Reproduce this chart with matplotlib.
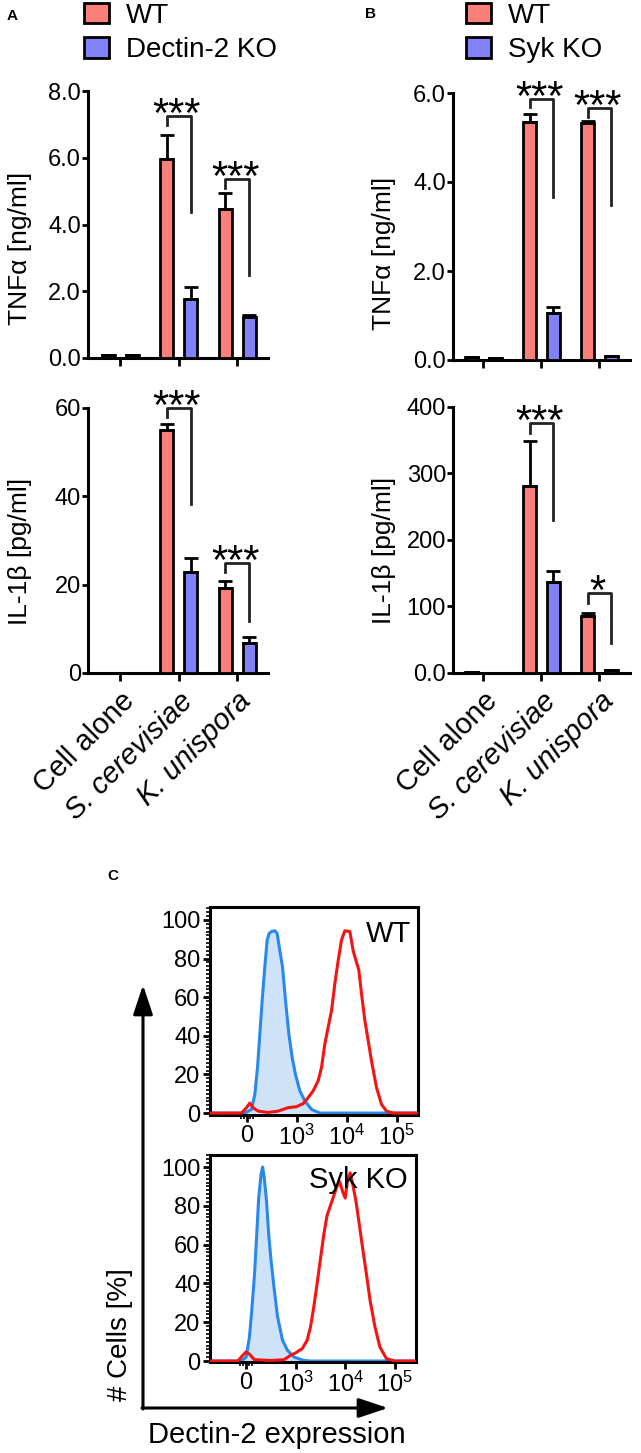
import numpy as np
import matplotlib
matplotlib.use("Agg")
import matplotlib.pyplot as plt
from matplotlib.ticker import FixedLocator, MultipleLocator

plt.rcParams['font.family'] = ['Liberation Sans', 'DejaVu Sans']
plt.rcParams['mathtext.fontset'] = 'custom'
plt.rcParams['mathtext.rm'] = 'Liberation Sans'
plt.rcParams['mathtext.it'] = 'Liberation Sans:italic'

W, H = 641, 1453
RED, BLUE = '#f9807a', '#8282f8'
HRED, HBLUE, HFILL = '#f41414', '#2a88ec', '#cfe3f8'

# ---- bar data (A: Dectin-2 KO, B: Syk KO)
CATS = ['Cell alone', 'S. cerevisiae', 'K. unispora']
A_tnf_wt, A_tnf_wt_err = [0.08, 5.95, 4.45], [0, 0.72, 0.5]
A_tnf_ko, A_tnf_ko_err = [0.08, 1.78, 1.22], [0, 0.35, 0.08]
A_il_wt, A_il_wt_err = [0, 55.0, 19.2], [0, 1.3, 1.6]
A_il_ko, A_il_ko_err = [0, 22.8, 6.8], [0, 3.2, 1.3]
B_tnf_wt, B_tnf_wt_err = [0.06, 5.35, 5.33], [0, 0.18, 0.03]
B_tnf_ko, B_tnf_ko_err = [0.04, 1.05, 0.08], [0, 0.13, 0.01]
B_il_wt, B_il_wt_err = [1.0, 281, 86], [0, 68, 4]
B_il_ko, B_il_ko_err = [0, 137, 4], [0, 16, 1]

# significance brackets: (category, bracket y, left leg end, right leg end, label)
A_tnf_sig = [(1, 7.25, 6.98, 4.37, '***'), (2, 5.36, 5.09, 2.49, '***')]
A_il_sig = [(1, 60, 58, 38.2, '***'), (2, 24.9, 22.9, 11.8, '***')]
B_tnf_sig = [(1, 5.87, 5.69, 3.66, '***'), (2, 5.66, 5.46, 3.48, '***')]
B_il_sig = [(1, 376, 361, 230, '***'), (2, 120, 105, 45, '*')]

# ---- flow histograms (x = fluorescence, y = % of max)
wt_iso_x = [-730, -33, 100, 167, 220, 267, 313, 367, 413, 453, 500, 567, 613, 667,
            720, 780, 847, 913, 980, 1166, 1468, 1995, 2930, 269000]
wt_iso_y = [0, 0, 1.9, 9.7, 23.6, 41, 58.3, 76, 89.6, 93, 94, 94.4, 93, 84,
            75.7, 58.3, 41, 28.8, 20, 11.5, 6.3, 1.9, 0, 0]
wt_d2_x = [-730, -100, 0, 67, 133, 233, 433, 633, 833, 1000, 1359, 1711, 2154, 2712,
           3162, 3690, 4434, 5012, 5843, 6813, 7943, 9261, 11659, 13594, 15849, 17650,
           19953, 23263, 27123, 31623, 39811, 50119, 63096, 85770, 269000]
wt_d2_y = [0, 0, 2.8, 5.2, 2.8, 1.0, 0.3, 1.0, 2.8, 3.3, 4.9, 8, 11.5, 16.7,
           23.6, 35.8, 46.2, 53, 67, 79, 89.6, 94.4, 94, 84, 78, 74,
           61.8, 48, 37.5, 27, 13.2, 4.5, 1.0, 0, 0]
syk_iso_x = [-730, -100, 0, 67, 113, 167, 213, 253, 300, 333, 367, 413, 453, 500,
             567, 633, 733, 833, 967, 1468, 1995, 269000]
syk_iso_y = [0, 0, 2, 12.5, 26, 44, 65, 84, 96, 100, 94, 82, 66, 52.5,
             37, 23, 10.8, 5.6, 2, 0.3, 0, 0]
syk_d2_x = [-730, -167, -67, 0, 67, 167, 500, 767, 900, 1000, 1359, 1711, 1995, 2326,
            2712, 3162, 3690, 4299, 5012, 5843, 6813, 7705, 8985, 10000, 11130, 12589,
            14230, 16600, 19360, 22550, 27120, 31620, 39810, 50120, 68130, 100000, 269000]
syk_d2_y = [0, 0, 3, 4.7, 3.5, 0.7, 0.3, 0.7, 3, 4.2, 6.4, 10.8, 17.7, 28,
            40, 52.5, 65, 75, 80, 85, 90, 92.5, 87, 84, 93, 97,
            91, 82, 70, 58, 44, 31.7, 17.7, 7.3, 1.2, 0, 0]

fig = plt.figure(figsize=(W / 100, H / 100), dpi=100)


def rect(l, t, r, b):
    return [l / W, 1 - b / H, (r - l) / W, (b - t) / H]


def bar_panel(box, wt, wte, ko, koe, ymax, yt, ytl, ylab, xlim, sig, xlabels):
    ax = fig.add_axes(rect(*box))
    x = np.arange(len(CATS))
    ek = dict(elinewidth=2, capsize=5, capthick=2, ecolor='k')
    b1 = ax.bar(x - 0.2, wt, 0.22, color=RED, edgecolor='k', lw=2,
                yerr=[np.zeros(3), wte], error_kw=ek, zorder=3)
    b2 = ax.bar(x + 0.21, ko, 0.22, color=BLUE, edgecolor='k', lw=2,
                yerr=[np.zeros(3), koe], error_kw=ek, zorder=3)
    for c, yb, yl, yr, s in sig:
        ax.plot([c - 0.2, c - 0.2, c + 0.21, c + 0.21], [yl, yb, yb, yr],
                color='#222222', lw=2, clip_on=False)
        ax.annotate(s, (c - 0.03, yb), xytext=(0, -8), textcoords='offset points',
                    ha='center', va='baseline', fontsize=30, annotation_clip=False)
    ax.set_xlim(*xlim)
    ax.set_ylim(0, ymax)
    for s in ['top', 'right']:
        ax.spines[s].set_visible(False)
    for s in ['left', 'bottom']:
        ax.spines[s].set_linewidth(2.2)
    ax.set_yticks(yt)
    ax.set_yticklabels(ytl)
    ax.set_xticks(x)
    ax.tick_params(axis='y', length=4, width=2, labelsize=17, pad=1)
    ax.tick_params(axis='x', length=6, width=2, labelsize=21, pad=4)
    if xlabels:
        ax.set_xticklabels(CATS, rotation=45, ha='right', rotation_mode='anchor')
        for t in ax.get_xticklabels()[1:]:
            t.set_style('italic')
    else:
        ax.set_xticklabels([])
    ax.set_ylabel(ylab, fontsize=19)
    return ax, b1, b2


axA1, a1, a2 = bar_panel((88, 91, 268, 358), A_tnf_wt, A_tnf_wt_err, A_tnf_ko, A_tnf_ko_err,
                         8, [0, 2, 4, 6, 8], ['0.0', '2.0', '4.0', '6.0', '8.0'],
                         'TNFα [ng/ml]', (-0.55, 2.53), A_tnf_sig, False)
axA2, _, _ = bar_panel((88, 408, 268, 673), A_il_wt, A_il_wt_err, A_il_ko, A_il_ko_err,
                       60, [0, 20, 40, 60], ['0', '20', '40', '60'],
                       'IL-1β [pg/ml]', (-0.55, 2.53), A_il_sig, True)
axB1, bb1, bb2 = bar_panel((453, 93, 630, 360), B_tnf_wt, B_tnf_wt_err, B_tnf_ko, B_tnf_ko_err,
                           6, [0, 2, 4, 6], ['0.0', '2.0', '4.0', '6.0'],
                           'TNFα [ng/ml]', (-0.52, 2.53), B_tnf_sig, False)
axB2, _, _ = bar_panel((453, 407, 630, 673), B_il_wt, B_il_wt_err, B_il_ko, B_il_ko_err,
                       400, [0, 100, 200, 300, 400], ['0.0', '100', '200', '300', '400'],
                       'IL-1β [pg/ml]', (-0.52, 2.53), B_il_sig, True)
axA1.yaxis.set_label_coords(-0.31, 0.41)
axA2.yaxis.set_label_coords(-0.31, 0.46)
axB1.yaxis.set_label_coords(-0.32, 0.40)
axB2.yaxis.set_label_coords(-0.32, 0.46)

leg_kw = dict(loc='upper left', frameon=False, fontsize=20, handlelength=0.9,
              handleheight=0.75, handletextpad=0.6, labelspacing=0.3,
              borderpad=0, borderaxespad=0)
fig.legend([a1, a2], ['WT', 'Dectin-2 KO'], bbox_to_anchor=(84 / W, 1 - 3 / H), **leg_kw)
fig.legend([bb1, bb2], ['WT', 'Syk KO'], bbox_to_anchor=(466 / W, 1 - 3 / H), **leg_kw)


def hist_panel(box, ylim, xi, yi, xd, yd, label, lpos):
    ax = fig.add_axes(rect(*box))
    ax.fill_between(xi, 0, yi, color=HFILL, lw=0, zorder=1)
    ax.plot(xi, yi, color=HBLUE, lw=2.2, zorder=2)
    ax.plot(xd, yd, color=HRED, lw=2.2, zorder=3)
    ax.set_xscale('symlog', linthresh=1000, linscale=0.9)
    ax.set_xlim(-730, 269000)
    ax.set_ylim(*ylim)
    ax.xaxis.set_major_locator(FixedLocator([0, 1e3, 1e4, 1e5]))
    ax.xaxis.set_minor_locator(FixedLocator([-120, -60, 60, 120]))
    ax.set_xticklabels(['0', '$10^{3}$', '$10^{4}$', '$10^{5}$'])
    ax.set_yticks([0, 20, 40, 60, 80, 100])
    ax.yaxis.set_minor_locator(MultipleLocator(2))
    for s in ax.spines.values():
        s.set_linewidth(2.2)
    ax.tick_params(which='major', length=5, width=2, labelsize=17, pad=2)
    ax.tick_params(which='minor', length=3, width=1.2)
    ax.text(lpos[0], lpos[1], label, transform=ax.transAxes, ha='center',
            va='center', fontsize=21)
    return ax


hist_panel((210, 907, 418, 1115), (-1, 106.7), wt_iso_x, wt_iso_y, wt_d2_x, wt_d2_y,
           'WT', (0.86, 0.87))
hist_panel((210, 1155, 416, 1362), (-0.5, 106.2), syk_iso_x, syk_iso_y, syk_d2_x, syk_d2_y,
           'Syk KO', (0.72, 0.88))

# overlay in pixel coordinates for panel letters and the big axis arrows
ov = fig.add_axes([0, 0, 1, 1], zorder=-1)
ov.set_xlim(0, W)
ov.set_ylim(H, 0)
ov.axis('off')
for t, xx, yy in [('A', 12, 16), ('B', 370, 14), ('C', 113, 876)]:
    ov.text(xx, yy, t, ha='center', va='center', fontsize=11, fontweight='bold')
ap = dict(arrowstyle='-|>,head_length=0.9,head_width=0.3', lw=2.2, color='k',
          mutation_scale=20, shrinkA=0, shrinkB=0)
ov.annotate('', xy=(143, 985), xytext=(143, 1409), arrowprops=ap)
ov.annotate('', xy=(388, 1408), xytext=(142, 1408), arrowprops=ap)
ov.text(120, 1335, '# Cells [%]', rotation=90, ha='center', va='center', fontsize=20)
ov.text(277, 1435, 'Dectin-2 expression', ha='center', va='center', fontsize=21)

fig.savefig('out.png', dpi=100)
